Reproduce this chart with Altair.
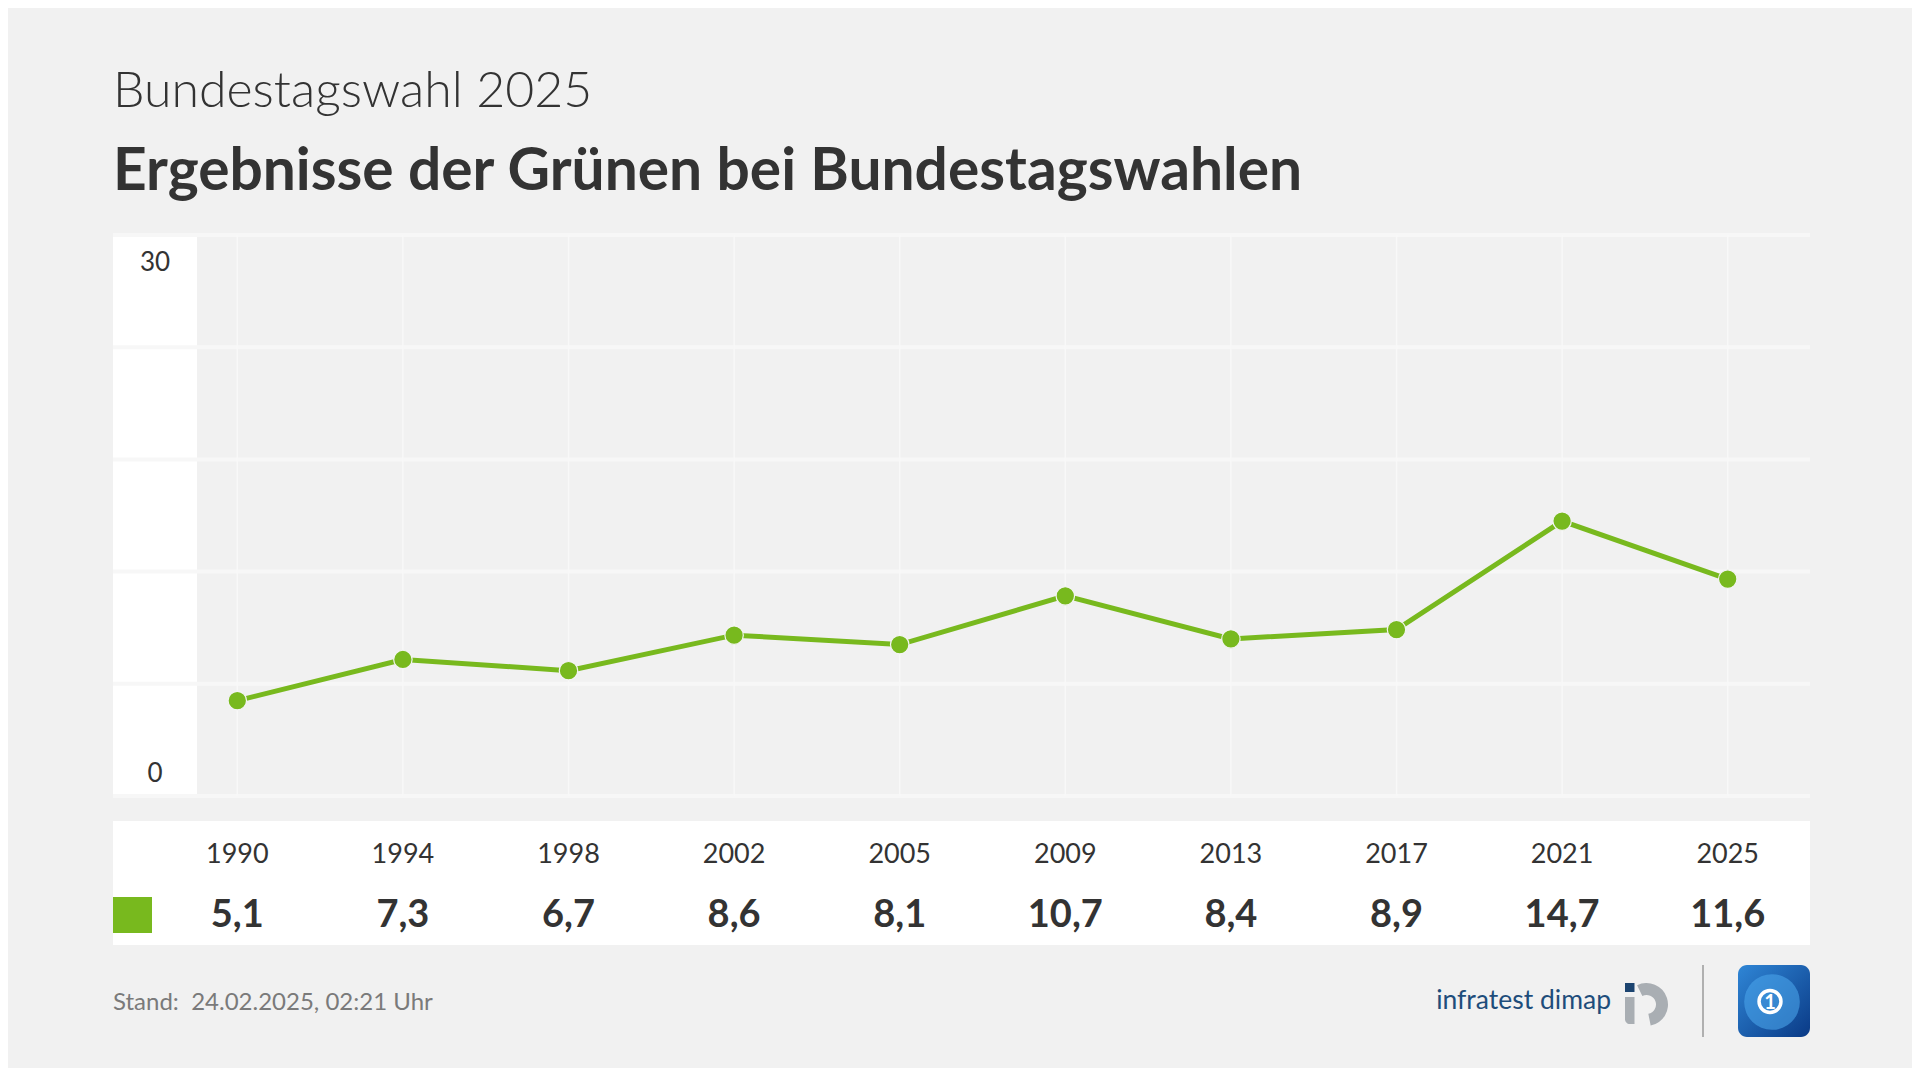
import altair as alt
import pandas as pd

# ---------------- data ----------------
years = ["1990", "1994", "1998", "2002", "2005", "2009", "2013", "2017", "2021", "2025"]
values = [5.1, 7.3, 6.7, 8.6, 8.1, 10.7, 8.4, 8.9, 14.7, 11.6]
value_labels = ["5,1", "7,3", "6,7", "8,6", "8,1", "10,7", "8,4", "8,9", "14,7", "11,6"]
grid_values = [0, 6, 12, 18, 24, 30]

subtitle = "Bundestagswahl 2025"
title = "Ergebnisse der Grünen bei Bundestagswahlen"
footer = "Stand:\u00a0\u00a024.02.2025, 02:21 Uhr"

# ---------------- style ----------------
W, H = 1697, 561
GREEN = "#78b91e"
TEXT = "#333333"
BG = "#f1f1f1"
FONT = "Lato"

df = pd.DataFrame({"i": list(range(len(years))), "year": years,
                   "value": values, "label": value_labels})
grid_df = pd.DataFrame({"v": grid_values})
one = pd.DataFrame({"k": [0]})

xscale = alt.Scale(domain=[-0.7506, 9.497], nice=False, zero=False)
yscale = alt.Scale(domain=[0, 30], nice=False, zero=True)
X = alt.X("i:Q", scale=xscale, axis=None)

deco = alt.Chart(one)

# y label column
ycol = deco.mark_rect(color="white").encode(
    x=alt.value(0), x2=alt.value(84), y=alt.value(0), y2=alt.value(H))

hgrid = alt.Chart(grid_df).mark_rule(color="#f7f7f7", strokeWidth=4).encode(
    x=alt.value(0), x2=alt.value(W),
    y=alt.Y("v:Q", scale=yscale, axis=None))

vgrid = alt.Chart(df).mark_rule(color="#f8f8f8", strokeWidth=1.5).encode(
    x=X, y=alt.value(0), y2=alt.value(H))

line = alt.Chart(df).mark_line(color=GREEN, strokeWidth=5).encode(
    x=X, y=alt.Y("value:Q", scale=yscale, axis=None))

points = alt.Chart(df).mark_point(filled=True, color=GREEN, size=340,
                                  stroke="#f4f4f4", strokeWidth=1.2, opacity=1).encode(
    x=X, y=alt.Y("value:Q", scale=yscale, axis=None))

ylab_top = alt.Chart(pd.DataFrame({"v": [30], "t": ["30"]})).mark_text(
    font=FONT, fontSize=26, color=TEXT, baseline="middle", align="center", dy=28).encode(
    x=alt.value(42), y=alt.Y("v:Q", scale=yscale, axis=None), text="t:N")
ylab_bot = alt.Chart(pd.DataFrame({"v": [0], "t": ["0"]})).mark_text(
    font=FONT, fontSize=26, color=TEXT, baseline="middle", align="center", dy=-22).encode(
    x=alt.value(42), y=alt.Y("v:Q", scale=yscale, axis=None), text="t:N")

# table
table_bg = deco.mark_rect(color="white").encode(
    x=alt.value(0), x2=alt.value(W), y=alt.value(586), y2=alt.value(710))
swatch = deco.mark_rect(color=GREEN).encode(
    x=alt.value(0), x2=alt.value(39), y=alt.value(662), y2=alt.value(698))
year_text = alt.Chart(df).mark_text(font=FONT, fontSize=27, color=TEXT,
                                    baseline="middle", align="center").encode(
    x=X, y=alt.value(620), text="year:N")
value_text = alt.Chart(df).mark_text(font=FONT, fontSize=38, fontWeight="bold", color=TEXT,
                                     baseline="middle", align="center").encode(
    x=X, y=alt.value(681), text="label:N")

# titles
sub_t = deco.mark_text(text=subtitle, font=FONT, fontSize=50, fontWeight=300, color=TEXT,
                       align="left", baseline="alphabetic").encode(
    x=alt.value(0), y=alt.value(-128))
title_t = deco.mark_text(text=title, font=FONT, fontSize=58.7, fontWeight="bold", color=TEXT,
                         align="left", baseline="alphabetic").encode(
    x=alt.value(0), y=alt.value(-45))
foot_t = deco.mark_text(text=footer, font=FONT, fontSize=24, color="#7a7a7a",
                        align="left", baseline="alphabetic").encode(
    x=alt.value(0), y=alt.value(775))

# logos
infra_t = deco.mark_text(text="infratest dimap", font=FONT, fontSize=26.5, color="#1e4d7b",
                         align="right", baseline="alphabetic").encode(
    x=alt.value(1498), y=alt.value(774))
ring = deco.mark_arc(radius=21.5, radius2=9.5, theta=5.83, theta2=9.23,
                     color="#a9aeb3").encode(x=alt.value(1533.5), y=alt.value(769.5))
stem = deco.mark_rect(color="#a9aeb3", cornerRadiusBottomLeft=6).encode(
    x=alt.value(1512), x2=alt.value(1521.5), y=alt.value(762), y2=alt.value(789))
dot = deco.mark_rect(color="#1c4470").encode(
    x=alt.value(1512), x2=alt.value(1521.5), y=alt.value(748), y2=alt.value(757))
sep = deco.mark_rule(color="#b0b0b0", strokeWidth=2).encode(
    x=alt.value(1590), y=alt.value(730), y2=alt.value(802))
ts_box = deco.mark_rect(cornerRadius=9, fill=alt.Gradient(
    gradient="linear",
    stops=[alt.GradientStop(color="#2f86d6", offset=0),
           alt.GradientStop(color="#0a3a86", offset=1)],
    x1=0, x2=1, y1=0, y2=1)).encode(
    x=alt.value(1625), x2=alt.value(1697), y=alt.value(730), y2=alt.value(802))
globe = deco.mark_circle(size=3100, color="#4aa3ea", opacity=0.6).encode(
    x=alt.value(1659), y=alt.value(767))
ts_ring = deco.mark_point(shape="circle", size=480, stroke="white", strokeWidth=3.5,
                          filled=False, opacity=1).encode(
    x=alt.value(1657), y=alt.value(766.5))
ts_one = deco.mark_text(text="1", font=FONT, fontSize=20, fontWeight="bold", color="white",
                        align="center", baseline="middle").encode(
    x=alt.value(1657), y=alt.value(767.5))

chart = alt.layer(
    ycol, hgrid, vgrid, line, points, ylab_top, ylab_bot,
    table_bg, swatch, year_text, value_text,
    sub_t, title_t, foot_t,
    infra_t, ring, stem, dot, sep, ts_box, globe, ts_ring, ts_one,
).properties(
    width=W, height=H,
    autosize=alt.AutoSizeParams(type="none"),
    padding={"left": 105, "top": 227, "right": 102, "bottom": 272},
    background=BG,
).configure_view(stroke="transparent", fill=BG)

chart.save("out.html", embed_options={"renderer": "svg", "actions": False})
